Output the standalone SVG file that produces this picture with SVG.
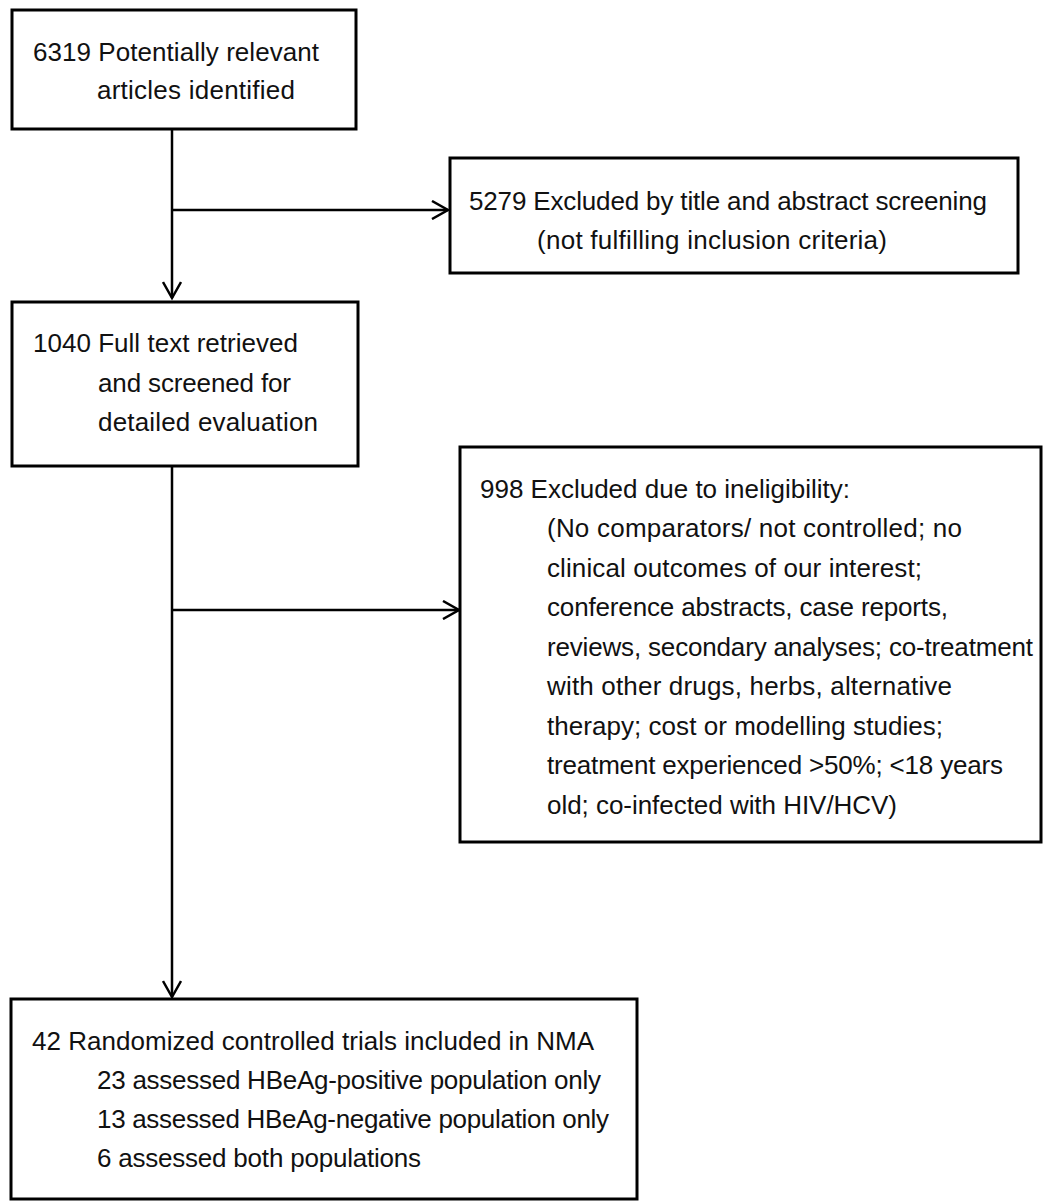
<svg xmlns="http://www.w3.org/2000/svg" width="1044" height="1204" viewBox="0 0 1044 1204">
<style>
.box{fill:#fff;stroke:#000;stroke-width:3}
.t{font-family:"Liberation Sans",Arial,sans-serif;font-size:26px;fill:#111}
.ln{fill:none;stroke:#000;stroke-width:2.5}
</style>
<defs>
<marker id="ah" markerWidth="20" markerHeight="20" refX="17" refY="10" orient="auto" markerUnits="userSpaceOnUse">
<path d="M1,1 L17,10 L1,19" fill="none" stroke="#000" stroke-width="2.5"/>
</marker>
</defs>
<rect width="1044" height="1204" fill="#fff"/>
<g id="connectors">
<line class="ln" x1="172" y1="129" x2="172" y2="298" marker-end="url(#ah)"/>
<line class="ln" x1="172" y1="210" x2="448" y2="210" marker-end="url(#ah)"/>
<line class="ln" x1="172" y1="466" x2="172" y2="997" marker-end="url(#ah)"/>
<line class="ln" x1="172" y1="610" x2="459" y2="610" marker-end="url(#ah)"/>
</g>
<g id="n1">
<rect class="box" x="12" y="10" width="344" height="119"/>
<text class="t" x="33" y="61" textLength="286">6319 Potentially relevant</text>
<text class="t" x="97" y="99" textLength="198">articles identified</text>
</g>
<g id="n2">
<rect class="box" x="450" y="158" width="568" height="115"/>
<text class="t" x="469" y="210" textLength="518">5279 Excluded by title and abstract screening</text>
<text class="t" x="537" y="249" textLength="350">(not fulfilling inclusion criteria)</text>
</g>
<g id="n3">
<rect class="box" x="12" y="302" width="346" height="164"/>
<text class="t" x="33" y="352" textLength="265">1040 Full text retrieved</text>
<text class="t" x="98" y="392" textLength="193">and screened for</text>
<text class="t" x="98" y="431" textLength="220">detailed evaluation</text>
</g>
<g id="n4">
<rect class="box" x="460" y="447" width="581" height="395"/>
<text class="t" x="480" y="498" textLength="370">998 Excluded due to ineligibility:</text>
<text class="t" x="547" y="537" textLength="415">(No comparators/ not controlled; no</text>
<text class="t" x="547" y="577" textLength="375">clinical outcomes of our interest;</text>
<text class="t" x="547" y="616" textLength="401">conference abstracts, case reports,</text>
<text class="t" x="547" y="656" textLength="486">reviews, secondary analyses; co-treatment</text>
<text class="t" x="547" y="695" textLength="405">with other drugs, herbs, alternative</text>
<text class="t" x="547" y="735" textLength="396">therapy; cost or modelling studies;</text>
<text class="t" x="547" y="774" textLength="456">treatment experienced &gt;50%; &lt;18 years</text>
<text class="t" x="547" y="814" textLength="350">old; co-infected with HIV/HCV)</text>
</g>
<g id="n5">
<rect class="box" x="11" y="999" width="626" height="200"/>
<text class="t" x="32" y="1050" textLength="562">42 Randomized controlled trials included in NMA</text>
<text class="t" x="97" y="1089" textLength="504">23 assessed HBeAg-positive population only</text>
<text class="t" x="97" y="1128" textLength="512">13 assessed HBeAg-negative population only</text>
<text class="t" x="97" y="1167" textLength="324">6 assessed both populations</text>
</g>
</svg>
